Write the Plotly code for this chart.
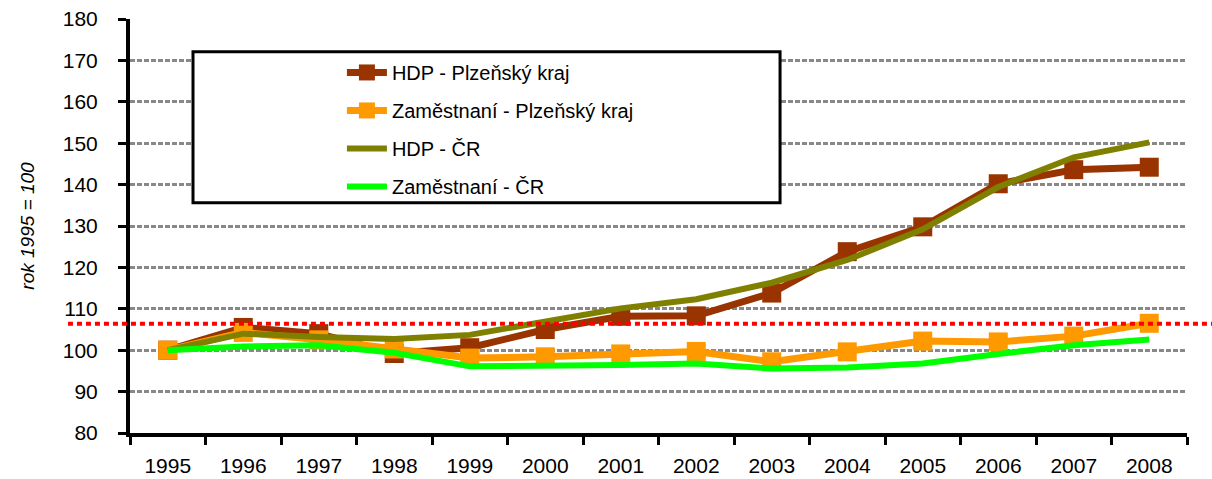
import plotly.graph_objects as go

years = [str(y) for y in range(1995, 2009)]

hdp_plzen = [100, 105.5, 104, 99.2, 100.6, 105, 108.2, 108.3, 113.8, 123.8, 129.8, 140.2, 143.6, 144.2]
zam_plzen = [100, 104.3, 102.5, 100.3, 98.1, 98.4, 99.1, 99.7, 97.2, 99.6, 102.2, 102, 103.4, 106.5]
hdp_cr = [100, 104, 103.2, 102.7, 103.7, 107, 110.1, 112.3, 116.3, 121.8, 129.2, 139.4, 146.6, 150.2]
zam_cr = [100, 100.9, 101.2, 99.4, 96.1, 96.1, 96.4, 96.8, 95.6, 95.8, 96.8, 99.1, 101.2, 102.6]

ref_level = 106.4

names = ["HDP - Plzeňský kraj", "Zaměstnaní - Plzeňský kraj", "HDP - ČR", "Zaměstnaní - ČR"]
series = [hdp_plzen, zam_plzen, hdp_cr, zam_cr]
colors = ["#993300", "#FF9900", "#808000", "#00FF00"]
widths = [7, 7, 6, 6]
has_marker = [True, True, False, False]

fig = go.Figure()

for i, (name, vals) in enumerate(zip(names, series)):
    fig.add_trace(go.Scatter(
        x=years,
        y=vals,
        name=name,
        legendgroup=f"g{i}",
        mode="lines+markers" if has_marker[i] else "lines",
        line=dict(color=colors[i], width=widths[i]),
        marker=dict(symbol="square", size=19, color=colors[i]),
    ))

# legend frame
fig.add_shape(type="rect", xref="paper", yref="paper",
              x0=0.0596, x1=0.615, y0=0.556, y1=0.921,
              line=dict(color="black", width=3), fillcolor="white", layer="above")

# red dotted reference line
fig.add_shape(type="line", xref="paper", yref="y",
              x0=-0.0587, x1=1.03, y0=ref_level, y1=ref_level,
              line=dict(color="#FF0000", width=4, dash="5px,4px"), layer="above")

fig.update_layout(
    width=1212,
    height=479,
    margin=dict(l=130, r=25, t=19, b=46, autoexpand=False),
    plot_bgcolor="white",
    paper_bgcolor="white",
    font=dict(family="Liberation Sans, Arial, sans-serif", color="black", size=20),
    legend=dict(
        x=0.2005, y=0.918, xanchor="left", yanchor="top",
        bgcolor="rgba(0,0,0,0)",
        font=dict(size=20),
        tracegroupgap=9,
        itemwidth=40,
    ),
)

fig.update_xaxes(
    type="category",
    range=[-0.5, len(years) - 0.5],
    automargin=False,
    showline=True, linecolor="black", linewidth=4,
    ticks="outside", tickson="boundaries", ticklen=8, tickwidth=3, tickcolor="black",
    showgrid=False,
    ticklabelstandoff=11,
    tickfont=dict(size=21),
)

fig.update_yaxes(
    range=[80, 180], dtick=10,
    automargin=False,
    showline=True, linecolor="black", linewidth=4,
    ticks="outside", ticklen=8, tickwidth=3, tickcolor="black",
    showgrid=True, gridcolor="#888888", gridwidth=3, griddash="5px,2px",
    ticklabelstandoff=16,
    tickfont=dict(size=21),
    title=dict(text="<i>rok 1995 = 100</i>", font=dict(size=19), standoff=24),
)

# page has a default 8px body margin; drop it so the figure fills the window
fig.write_html("out.html", config={"displayModeBar": False},
               post_script="document.body.style.margin='0';")
